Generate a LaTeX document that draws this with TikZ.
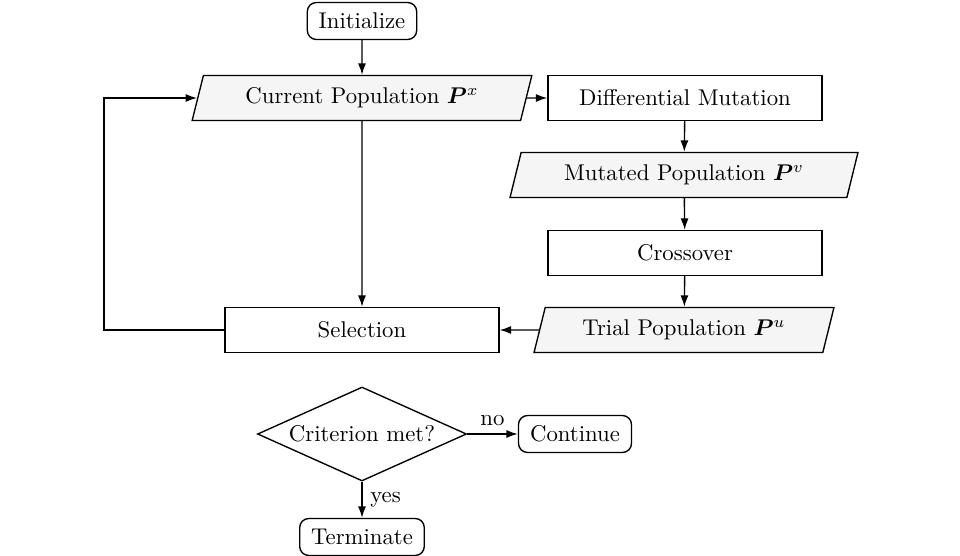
\documentclass[tikz,border=0pt]{standalone}
\usepackage{amsmath,bm}
\usetikzlibrary{shapes.geometric,arrows.meta}
\newdimen\pxu \pxu=0.01544cm
\begin{document}
\begin{tikzpicture}[x=0.01544cm,y=-0.01544cm,semithick,
  arr/.style={-{Latex[length=5pt,width=3.5pt]}},
  rbox/.style={draw,rounded corners=4pt,fill=white,minimum height=37\pxu,inner xsep=5pt},
  sbox/.style={draw,rectangle,fill=white,minimum height=45\pxu,minimum width=274\pxu},
  para/.style={draw,trapezium,trapezium left angle=68,trapezium right angle=112,trapezium stretches=true,fill=black!4,minimum height=45\pxu,inner sep=0pt},
  dec/.style={draw,diamond,aspect=2.22,minimum width=209\pxu,minimum height=94\pxu,inner sep=0pt}]
\useasboundingbox (0,0) rectangle (960,556);
\node[rbox] (init) at (362,21) {Initialize};
\node[para,minimum width=340\pxu] (cur) at (362,98) {Current Population $\bm{P}^x$};
\node[sbox] (dm) at (685,98) {Differential Mutation};
\node[para,minimum width=348\pxu] (mut) at (684,175) {Mutated Population $\bm{P}^v$};
\node[sbox] (cross) at (685,253) {Crossover};
\node[para,minimum width=302\pxu] (trial) at (684,330) {Trial Population $\bm{P}^u$};
\node[sbox] (sel) at (362,330) {Selection};
\node[dec] (crit) at (362,434) {Criterion met?};
\node[rbox,minimum width=113\pxu] (cont) at (575,434) {Continue};
\node[rbox,minimum width=124\pxu] (term) at (362,537) {Terminate};
\coordinate (lp) at (104,330);
\draw[arr] (init) -- (cur);
\draw[arr] (cur) -- (dm);
\draw[arr] (dm) -- (mut);
\draw[arr] (mut) -- (cross);
\draw[arr] (cross) -- (trial);
\draw[arr] (trial) -- (sel);
\draw[arr] (cur) -- (sel);
\draw[arr] (sel.west) -- (lp) |- (cur.west);
\draw[arr] (crit.east) -- node[above] {no} (cont);
\draw[arr] (crit.south) -- node[right] {yes} (term);
\end{tikzpicture}
\end{document}
